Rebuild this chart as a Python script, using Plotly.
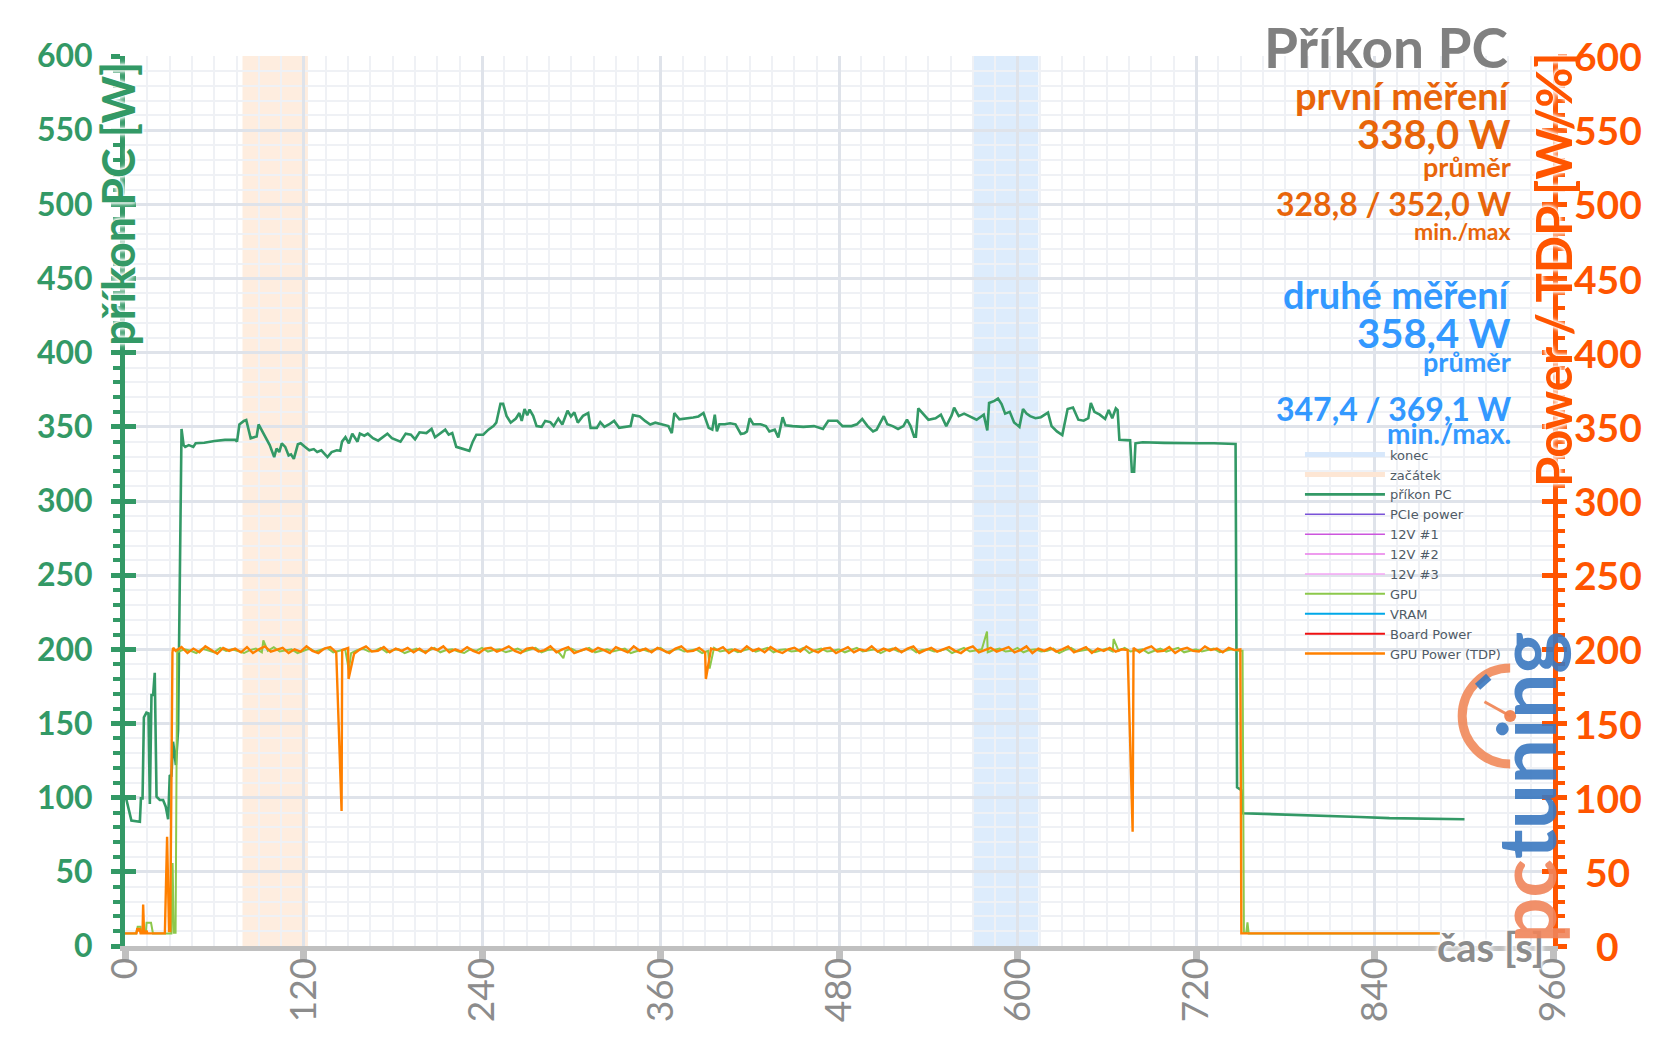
import plotly.graph_objects as go

# ---------------- data ----------------
# příkon PC (whole PC power draw) [s] / [W]
pc_t = [0.5, 2.8, 4.3, 10.0, 10.7, 11.8, 12.7, 14.4, 15.8, 16.7,
        17.8, 18.9, 20.0, 21.2, 23.4, 25.6, 27.4, 29.0, 30.1, 31.2,
        32.3, 34.2, 35.7, 38.0,
        39.4, 40.5, 42.9, 45.9, 47.5, 53.3, 60.2, 67.2, 74.1, 75.3,
        76.9, 79.9, 81.5, 84.5, 86.8, 88.5, 89.8, 92.2, 94.5, 97.3,
        100.3, 101.9, 103.7, 105.4, 107.7, 110.0, 111.6, 113.5, 116.2, 118.1,
        120.9, 123.9, 126.9, 129.2, 132.0, 133.8, 136.1, 138.9, 142.4, 144.7,
        145.9, 148.2, 150.5, 152.8, 156.3, 157.9, 160.9, 163.2, 166.7, 170.2,
        173.6, 176.4, 179.4, 182.9, 185.2, 188.7, 192.2, 195.0, 198.0, 202.6,
        206.1, 208.4, 211.9, 215.3, 217.6, 220.0, 222.7, 226.9, 231.5, 233.8,
        236.2, 240.8, 244.3, 247.7, 249.6, 252.4, 254.2, 256.5, 259.3, 262.8,
        265.1, 266.7, 268.6, 270.4, 272.0, 274.4, 276.7, 280.1, 282.5, 285.9,
        288.2, 291.3, 294.0, 297.5, 299.8, 302.1, 304.4, 307.9, 311.4, 313.0,
        317.2, 319.5, 322.3, 325.3, 328.8, 332.2, 335.7, 339.9, 341.5, 346.1,
        349.6, 353.1, 356.5, 361.2, 365.3, 367.6, 369.3, 372.7, 377.4, 382.0,
        385.5, 388.9,
        392.4, 394.8, 396.5, 397.9, 399.6, 403.2, 406.8, 410.4, 414.0, 416.4,
        418.1, 420.0, 422.4, 427.2, 430.8, 433.2, 436.8, 439.2, 442.1, 444.0,
        448.8, 456.0, 463.2, 469.2, 472.8, 478.8, 482.4, 488.4, 492.0, 495.6,
        499.2, 502.9, 505.3, 507.7, 510.1, 512.5, 516.1, 519.7, 523.3, 525.7,
        528.1, 530.5, 531.7, 533.3, 536.5, 540.1, 544.9, 548.5, 552.1, 555.7,
        557.4, 560.5, 564.1, 568.9, 572.5, 577.3, 579.7, 580.9, 584.5, 586.9,
        589.3, 591.7, 594.8, 597.7, 600.1, 601.3, 603.7, 606.1, 608.5, 612.1,
        615.7, 620.5, 622.9, 626.5, 630.1, 633.7, 637.3, 640.9, 644.5, 647.6,
        649.3, 651.7, 655.3, 658.9, 661.3, 663.7, 666.1, 667.3, 668.5, 672.1,
        675.7, 676.9, 678.4, 679.3, 684.1, 698.5, 710.5, 722.5, 732.1, 739.3,
        745.3, 746.6,
        747.6, 750.5, 751.5, 770.0, 790.0, 810.0, 830.0, 850.0, 870.0, 890.0,
        900.5]
pc_w = [100.6, 89.4, 84.5, 83.8, 99.5, 99.5, 154.2, 157.3, 156.8, 95.7,
        169.2, 169.2, 184.2, 100.6, 98.4, 98.4, 93.9, 85.4, 115.3, 114.1,
        137.7, 122.0, 145.6, 348.6,
        337.7, 336.5, 337.7, 336.5, 338.9, 339.3, 340.5, 341.2, 341.2, 340.0,
        351.6, 354.0, 354.6, 342.3, 343.0, 343.5, 351.6, 347.0, 342.3, 337.7,
        329.6, 335.4, 333.0, 338.9, 336.5, 330.7, 331.4, 328.4, 338.2, 338.9,
        336.5, 334.2, 335.0, 333.0, 334.2, 332.4, 329.6, 333.0, 334.2, 333.8,
        340.0, 343.0, 338.9, 345.4, 340.0, 345.4, 344.0, 345.4, 342.3, 340.7,
        343.5, 345.4, 342.3, 341.2, 340.0, 345.4, 344.7, 341.6, 346.3, 345.8,
        348.6, 343.0, 345.8, 348.1, 344.7, 345.8, 336.5, 335.0, 333.8, 340.0,
        344.7, 344.7, 348.1, 350.5, 352.8, 365.5, 365.5, 357.4, 352.8, 355.6,
        359.3, 354.0, 362.0, 357.9, 361.6, 357.4, 350.5, 350.0, 354.0, 353.2,
        350.5, 355.6, 351.6, 360.9, 357.0, 359.7, 352.8, 357.4, 359.3, 349.3,
        349.3, 353.2, 350.0, 351.6, 354.0, 349.3, 350.0, 350.5, 357.9, 357.0,
        354.0, 351.6, 352.8, 351.6, 350.5, 345.8, 359.3, 355.1, 355.6, 356.3,
        357.0, 359.3,
        349.3, 348.1, 358.2, 346.9, 351.7, 351.7, 352.4, 351.7, 345.2, 345.7,
        346.9, 355.8, 351.7, 351.7, 350.5, 346.9, 348.1, 342.8, 356.5, 351.0,
        350.5, 350.0, 350.5, 348.6, 354.1, 354.1, 350.5, 350.5, 351.7, 355.3,
        350.5, 346.9, 348.1, 352.9, 357.2, 351.7, 350.5, 348.6, 350.5, 354.8,
        350.5, 343.3, 343.3, 362.5, 358.9, 354.8, 355.8, 358.2, 350.5, 357.7,
        363.0, 357.2, 358.9, 356.5, 354.8, 358.2, 347.6, 366.1, 367.5, 369.1,
        365.4, 358.9, 360.1, 352.9, 350.5, 350.0, 362.0, 358.9, 357.2, 355.8,
        356.5, 359.6, 350.5, 346.9, 344.5, 362.0, 363.0, 354.8, 354.1, 355.8,
        366.1, 360.1, 358.2, 355.3, 361.3, 355.8, 362.5, 361.3, 341.3, 340.9,
        340.9, 319.7, 319.7, 338.9, 339.6, 339.2, 338.9, 338.9, 338.9, 338.4,
        338.4, 338.4,
        107.0, 105.0, 89.5, 89.0, 88.5, 87.5, 87.0, 86.2, 85.8, 85.5,
        85.4]

# GPU Power (TDP) – start, plateau (sampled every 4 s from 34 s), dips, end
tdp_start_t = [0.0, 7.7, 8.3, 9.2, 9.8, 10.5, 11.8, 12.2, 12.8, 14.0, 14.5, 15.0,
               26.8, 28.3, 29.6, 30.4, 31.9, 32.4]
tdp_start_w = [8.5, 8.5, 12.0, 10.0, 12.0, 8.5, 8.5, 28.0, 8.5, 8.5, 10.5, 8.5,
               8.5, 73.7, 10.0, 10.0, 198.0, 201.0]
tdp_plateau_t0 = 34
tdp_plateau_step = 4
tdp_plateau_w = [
    199, 201.5, 197.5, 200.5, 198, 202, 199.5, 197, 201, 199, 200.5, 198, 201.5, 197.5, 200, 202, 198.5, 199.5, 201, 197.5,
    200, 198.5, 202, 199, 197.5, 200.5, 201.5, 198, 199.5, 201, 197, 200, 202, 198.5, 199, 201.5, 198, 200.5, 199, 201,
    198, 200.5, 197.5, 201, 199.5, 202, 198, 200, 198.5, 201.5, 199, 197.5, 200.5, 201, 198.5, 200, 202, 199, 197.5, 200.5,
    201, 198.5, 199.5, 202, 198, 200, 201.5, 197.5, 199, 200.5, 198.5, 201, 199.5, 197.5, 201.5, 200, 198, 202, 199, 200.5,
    198, 201, 199.5, 197.5, 200.5, 202, 198.5, 199, 201, 198, 200.5, 199.5, 201.5, 197.5, 200, 198.5, 202, 199, 200.5, 198,
    201.5, 199, 197.5, 200, 201, 198.5, 202, 199.5, 198, 200.5, 201, 197.5, 199.5, 201.5, 198, 200, 199, 202, 198.5, 200.5,
    199, 201, 198, 200.5, 202, 197.5, 199.5, 201, 198.5, 200, 201.5, 199, 197.5, 200.5, 202, 198, 199.5, 201, 198.5, 200,
    201.5, 198, 199.5, 202, 197.5, 200.5, 199, 201, 198.5, 200, 202, 198, 199.5, 201.5, 197.5, 200.5, 199, 201, 198.5, 200,
    199.5, 201, 198, 200.5, 202, 198.5, 199, 201.5, 197.5, 200, 201, 199, 198.5, 202, 199.5, 200.5, 198, 201, 199.5]
tdp_dip_t = [145.6, 150.3, 390.5, 677.4]
tdp_dip_w = [91.0, 180.0, 180.0, 77.0]
tdp_end_t = [749.8, 750.5, 884.0]
tdp_end_w = [200.0, 8.5, 8.5]

# GPU
gpu_start_t = [0.0, 7.5, 8.5, 10.5, 11.0, 14.0, 14.5, 17.5, 18.8, 31.2, 32.0, 32.8, 34.0, 35.1]
gpu_start_w = [8.5, 8.5, 13.0, 13.0, 9.0, 9.0, 15.7, 15.7, 8.5, 8.5, 56.0, 9.0, 9.0, 199.0]
gpu_plateau_t0 = 36
gpu_plateau_step = 4
gpu_plateau_w = [
    198.5, 200, 199, 197.5, 200.5, 199.5, 198, 201, 199, 200, 198.5, 197.5, 199.5, 200.5, 198, 199, 201.5, 198.5, 199.5, 200,
    197.5, 199, 200.5, 198.5, 199.5, 201, 198, 199, 200, 197.5, 199.5, 200.5, 198.5, 199, 201, 198, 199.5, 200, 197.5, 199,
    200.5, 198.5, 199, 201, 198, 199.5, 200, 198.5, 197.5, 200, 199, 201, 198.5, 199.5, 200, 198, 199, 200.5, 198.5, 199.5,
    201, 198, 199.5, 200, 197.5, 199, 200.5, 198.5, 199.5, 201, 198, 199, 200, 198.5, 199.5, 200.5, 197.5, 199, 200, 198.5,
    199.5, 201, 198, 199, 200.5, 198.5, 199.5, 200, 197.5, 199, 201, 198.5, 199.5, 200, 198, 199, 200.5, 198.5, 199.5, 201,
    198, 199.5, 200, 198.5, 199, 201, 197.5, 199.5, 200.5, 198.5, 199, 200, 198, 199.5, 201, 198.5, 199, 200, 197.5, 199.5,
    200.5, 198.5, 199, 201, 198, 199.5, 200, 198.5, 199, 200.5, 197.5, 199.5, 201, 198.5, 199, 200, 198, 199.5, 200.5, 198.5,
    199, 201, 198, 199.5, 200, 198.5, 199, 200.5, 197.5, 199.5, 201, 198.5, 199, 200, 198, 199.5, 200.5, 198.5, 199, 201,
    198.5, 199.5, 200, 197.5, 199, 200.5, 198.5, 199.5, 201, 198, 199, 200, 198.5, 199.5, 200.5, 198, 199, 200, 199]
gpu_spike_t = [93.0, 150.5, 294.7, 393.0, 579.5, 664.6]
gpu_spike_w = [206.0, 186.0, 194.0, 187.0, 212.0, 207.0]
gpu_end_t = [751.3, 752.2, 753.8, 754.6, 755.4, 884.0]
gpu_end_w = [199.0, 9.0, 9.0, 16.0, 8.5, 8.5]

# highlighted measurement windows
band_names = ["začátek", "konec"]
band_start = [79, 570]
band_end = [123, 614]

x_ticks = [0, 120, 240, 360, 480, 600, 720, 840, 960]
y_ticks = [0, 50, 100, 150, 200, 250, 300, 350, 400, 450, 500, 550, 600]

# ---------------- helpers ----------------
def merged(t_lists, w_lists):
    pts = []
    for ts, ws in zip(t_lists, w_lists):
        assert len(ts) == len(ws)
        pts.extend(zip(ts, ws))
    pts.sort(key=lambda p: p[0])
    return [p[0] for p in pts], [p[1] for p in pts]

assert len(pc_t) == len(pc_w)
tdp_plateau_t = [tdp_plateau_t0 + i * tdp_plateau_step for i in range(len(tdp_plateau_w))]
gpu_plateau_t = [gpu_plateau_t0 + i * gpu_plateau_step for i in range(len(gpu_plateau_w))]
tdp_t, tdp_w = merged([tdp_start_t, tdp_plateau_t, tdp_dip_t, tdp_end_t],
                      [tdp_start_w, tdp_plateau_w, tdp_dip_w, tdp_end_w])
gpu_t, gpu_w = merged([gpu_start_t, gpu_plateau_t, gpu_spike_t, gpu_end_t],
                      [gpu_start_w, gpu_plateau_w, gpu_spike_w, gpu_end_w])

# ---------------- style ----------------
GREEN = "#339966"
RED = "#ff5500"
ORANGE_TXT = "#e8650a"
BLUE_TXT = "#3399ff"
GRAY = "#8c8c8c"
FONT = "Lato"

fig = go.Figure()

fig.add_trace(go.Scatter(x=[None], y=[None], mode="lines", name="konec",
                         line=dict(color="#d8e8fb", width=5)))
fig.add_trace(go.Scatter(x=[None], y=[None], mode="lines", name="začátek",
                         line=dict(color="#fde6d4", width=5)))
fig.add_trace(go.Scatter(x=pc_t, y=pc_w, mode="lines", name="příkon PC",
                         line=dict(color=GREEN, width=2.6)))
for nm, col in [("PCIe power", "#7a52d8"), ("12V #1", "#cc55dd"),
                ("12V #2", "#e87be8"), ("12V #3", "#f4a6f4")]:
    fig.add_trace(go.Scatter(x=[None], y=[None], mode="lines", name=nm,
                             line=dict(color=col, width=1.5)))
fig.add_trace(go.Scatter(x=gpu_t, y=gpu_w, mode="lines", name="GPU", yaxis="y2",
                         line=dict(color="#8cc84b", width=2)))
fig.add_trace(go.Scatter(x=[None], y=[None], mode="lines", name="VRAM",
                         line=dict(color="#00a8e8", width=2)))
fig.add_trace(go.Scatter(x=[None], y=[None], mode="lines", name="Board Power",
                         line=dict(color="#ee1111", width=2)))
fig.add_trace(go.Scatter(x=tdp_t, y=tdp_w, mode="lines", name="GPU Power (TDP)", yaxis="y2",
                         line=dict(color="#ff8000", width=2.4)))
# carriers for the inner major tick axes
fig.add_trace(go.Scatter(x=[None], y=[None], yaxis="y3", showlegend=False, hoverinfo="skip"))
fig.add_trace(go.Scatter(x=[None], y=[None], yaxis="y4", showlegend=False, hoverinfo="skip"))

band_fill = {"začátek": "rgba(250,190,140,0.28)", "konec": "rgba(150,195,245,0.32)"}
shapes = []
for nm, a, b in zip(band_names, band_start, band_end):
    shapes.append(dict(type="rect", xref="x", yref="paper", x0=a, x1=b, y0=0, y1=1,
                       fillcolor=band_fill[nm], line=dict(width=0), layer="between"))

# pctuning watermark gauge (decoration, paper coords)
cx, cy, rx, ry, k = 0.9700, 0.2584, 0.0336, 0.0539, 0.5523
arc = (f"M {cx},{cy+ry} C {cx-k*rx},{cy+ry} {cx-rx},{cy+k*ry} {cx-rx},{cy} "
       f"C {cx-rx},{cy-k*ry} {cx-k*rx},{cy-ry} {cx},{cy-ry}")
shapes.append(dict(type="path", xref="paper", yref="paper", path=arc,
                   line=dict(color="rgba(240,130,80,0.85)", width=9), layer="above"))
shapes.append(dict(type="line", xref="paper", yref="paper", x0=cx - 0.0180, y0=cy + 0.0160, x1=cx, y1=cy,
                   line=dict(color="rgba(240,130,80,0.9)", width=3), layer="above"))
shapes.append(dict(type="circle", xref="paper", yref="paper", x0=cx-0.0042, x1=cx+0.0042,
                   y0=cy-0.0067, y1=cy+0.0067, fillcolor="rgba(240,130,80,0.95)",
                   line=dict(width=0), layer="above"))
shapes.append(dict(type="line", xref="paper", yref="paper", x0=cx-0.0228, y0=cy+0.0330,
                   x1=cx-0.0150, y1=cy+0.0440,
                   line=dict(color="rgba(58,120,192,0.9)", width=8), layer="above"))

XR = 0.9721
def txt(text, y, size, color, x=XR):
    return dict(text=text, xref="paper", yref="paper", x=x, y=y, xanchor="right", yanchor="middle",
                showarrow=False, font=dict(family=FONT, size=size, color=color, weight="bold"))

halo = "0 0 3px #fff, 0 0 3px #fff, 0 0 4px #fff, 0 0 6px #fff"
annotations = [
    txt("Příkon PC", 1.0101, 55, "#808080", x=0.9699),
    txt("první měření", 0.9562, 38, ORANGE_TXT),
    txt("338,0 W", 0.9119, 40, ORANGE_TXT),
    txt("průměr", 0.8760, 27, ORANGE_TXT),
    txt("328,8 / 352,0 W", 0.8339, 32, ORANGE_TXT),
    txt("min./max", 0.8034, 23, ORANGE_TXT),
    txt("druhé měření", 0.7331, 38, BLUE_TXT),
    txt("358,4 W", 0.6891, 40, BLUE_TXT),
    txt("průměr", 0.6562, 27, BLUE_TXT),
    txt("347,4 / 369,1 W", 0.6034, 32, BLUE_TXT),
    txt("min./max.", 0.5764, 28, BLUE_TXT),
    dict(text="příkon PC [W]", xref="paper", yref="paper", x=-0.005, y=0.8337, textangle=-90,
         xanchor="center", yanchor="middle", showarrow=False,
         font=dict(family=FONT, size=45, color=GREEN, weight="bold", shadow=halo)),
    dict(text="Power / TDP [W/%]", xref="paper", yref="paper", x=1.0, y=0.7596, textangle=-90,
         xanchor="center", yanchor="middle", showarrow=False,
         font=dict(family=FONT, size=49, color=RED, weight="bold", shadow=halo)),
    dict(text="čas [s]", xref="paper", yref="paper", x=0.9559, y=-0.001,
         xanchor="center", yanchor="middle", showarrow=False,
         font=dict(family=FONT, size=40, color=GRAY, weight="bold", shadow=halo)),
    dict(text="<span style='color:rgba(240,132,90,0.9)'>pc</span>"
              "<span style='color:rgba(58,120,192,0.9)'>tuning</span>",
         xref="paper", yref="paper", x=0.9805, y=0.1787, textangle=-90,
         xanchor="center", yanchor="middle", showarrow=False,
         font=dict(family=FONT, size=80, weight="bold")),
]
# right-axis tick labels (centred, as in the original)
for v in y_ticks:
    annotations.append(dict(text=str(v), xref="paper", yref="y", x=1.0385, y=v,
                            xanchor="center", yanchor="middle", showarrow=False,
                            font=dict(family=FONT, size=39, color=RED, weight="bold")))

common_y = dict(range=[0, 600], dtick=50, tick0=0, zeroline=False, fixedrange=True)
fig.update_layout(
    width=1649, height=1036,
    margin=dict(l=117, r=104, t=48, b=98),
    paper_bgcolor="white", plot_bgcolor="white",
    font=dict(family=FONT, size=14),
    showlegend=True,
    legend=dict(x=0.8228, y=0.569, xanchor="left", yanchor="top", bgcolor="rgba(0,0,0,0)",
                font=dict(family="DejaVu Sans", size=13, color="#4f5b66"), itemwidth=80,
                tracegroupgap=0, traceorder="normal"),
    xaxis=dict(range=[0, 960], tickvals=x_ticks, showgrid=True, gridcolor="#dfe3ea", gridwidth=2.5,
               minor=dict(dtick=15, tick0=0, showgrid=True, gridcolor="#eff1f5", gridwidth=2),
               showline=True, linecolor="#c0c0c0", linewidth=5, ticks="outside", ticklen=9,
               tickwidth=7, tickcolor="#c0c0c0", tickangle=-90, ticklabelstandoff=-17,
               tickfont=dict(family=FONT, size=37, color=GRAY), zeroline=False),
    yaxis=dict(**common_y, tickvals=y_ticks, showgrid=True, gridcolor="#dfe3ea", gridwidth=2.5,
               minor=dict(dtick=10, showgrid=True, gridcolor="#eff1f5", gridwidth=2,
                          ticks="outside", ticklen=7, tickwidth=4, tickcolor=GREEN),
               showline=True, linecolor=GREEN, linewidth=5, ticks="outside", ticklen=9,
               tickwidth=5, tickcolor=GREEN, ticklabelstandoff=12,
               tickfont=dict(family=FONT, size=32, color=GREEN, weight="bold")),
    yaxis2=dict(**common_y, overlaying="y", side="right", showgrid=False, showticklabels=False,
                minor=dict(dtick=10, ticks="outside", ticklen=7, tickwidth=4, tickcolor=RED),
                showline=True, linecolor=RED, linewidth=5, ticks="outside", ticklen=9,
                tickwidth=5, tickcolor=RED),
    yaxis3=dict(**common_y, overlaying="y", side="left", ticks="inside", ticklen=11, tickwidth=5,
                tickcolor=GREEN, showticklabels=False, showgrid=False, showline=False),
    yaxis4=dict(**common_y, overlaying="y", side="right", ticks="inside", ticklen=11, tickwidth=5,
                tickcolor=RED, showticklabels=False, showgrid=False, showline=False),
    shapes=shapes,
    annotations=annotations,
)

fig.write_html("out.html")
